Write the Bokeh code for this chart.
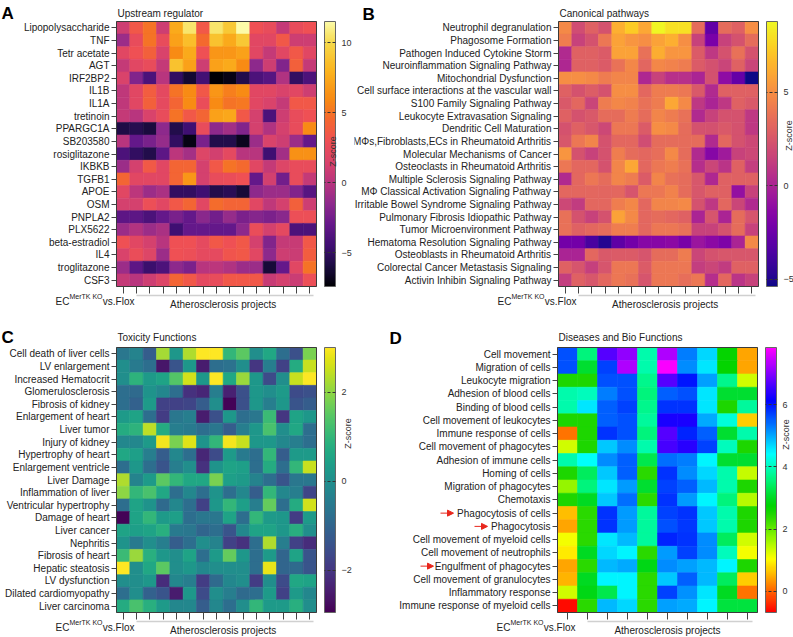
import colorsys
import math
from bokeh.plotting import figure
from bokeh.models import (ColumnDataSource, LinearColorMapper, ColorBar, FixedTicker,
                          LinearAxis, Label, Range1d, Arrow, NormalHead)
from bokeh.layouts import column, row
from bokeh.palettes import Plasma256, Viridis256
from bokeh.embed import file_html
from bokeh.resources import INLINE

FONT = "Liberation Sans"

# ---------------- data ----------------
a_rows = ["Lipopolysaccharide", "TNF", "Tetr acetate", "AGT", "IRF2BP2", "IL1B", "IL1A",
          "tretinoin", "PPARGC1A", "SB203580", "rosiglitazone", "IKBKB", "TGFB1", "APOE",
          "OSM", "PNPLA2", "PLX5622", "beta-estradiol", "IL4", "troglitazone", "CSF3"]
a_values = [
    [1, 3.5, 5, 1, 7.5, 10.5, 3.5, 10.5, 9, 11.5, 3, 2.5, 0.5, 2.5, 3],
    [-1, 2.5, 5, 2.5, 7, 8.5, 4.5, 8.7, 7.5, 9, 2, 2, 3.5, 1, 1],
    [2, 3, 4, 1.5, 6, 7.5, 3, 6.5, 6.5, 7, 2, 0.5, 2, 3.5, 2],
    [0.5, 2, 2.5, 0.5, 8.7, 7, 1, 7, 7.5, 6, -1.5, 1, -2, 4, 0.5],
    [1.5, -2, -4, 0, -5, -6.3, -4.3, -7.4, -7, -5.7, -4, -3.5, -0.3, -5, -4],
    [0.3, 2, 3.8, 2.2, 5, 6, 3.5, 6.5, 5.5, 6, 2, 2, 1.5, 2, 1],
    [0.3, 2, 4, 2.3, 4.3, 6, 2.7, 6, 5, 5.2, 2, 1.5, 0.5, 3.5, 3.5],
    [0.5, 0, 1.5, 2.5, 5, 3.5, 4.3, 7, 7.3, 3.5, 1.3, -4, 1, 2.5, 3],
    [-5.8, -5.5, -6, -1.5, -5.7, -4.5, 2.5, -1.5, -0.8, -2, 1.3, -0.3, 1.3, 2.5, 6],
    [0, -3, -2.3, -1.2, -5, -7, -2.3, -5.7, -5.7, -6.8, -1, 1.5, 1, -1, -3],
    [-4, -5, -5.7, -3.3, 0.2, -0.7, 1.8, 1.2, 2.2, 0, 0, -4.5, -0.8, 6.3, 6.3],
    [-1, 1.3, 3.6, 2, 4.3, 4.3, 1.3, 3.5, 5, 4.5, 2, 0.5, 1.8, 2.5, 2.5],
    [4.3, 2, 2, 2, 4.3, 6.5, 1.3, 2.5, 2.7, 3, -3, 1.2, -2.5, 2.5, 0.5],
    [2, 0.2, -1, -0.5, -5, -5, -4.5, -5.7, -5.4, -6.2, -1.5, -1, -1, -2, -3.5],
    [1.3, 1.3, 2.8, 2, 3.5, 4.3, 2, 4.7, 4.2, 4.2, 2, 0.3, 1.3, 4, 1],
    [-3.3, -3.3, -4, -3, -2.3, -3, -1.7, -2.5, -1.2, -2.2, -1.8, -2.2, -1.7, 2.8, 2.8],
    [-1, -0.2, -1, -0.5, -4.5, -3, -3, -3, -3, -1.5, 2.7, 1.3, 2.2, -4, -4],
    [3, 2, 1.3, 0, 3, 3, 2.3, 3.5, 3, 3.5, 1.3, -2, 0.5, 0.7, 3.5],
    [1.5, 2.7, 1.8, -1, 3, 2.8, 2.3, 2.3, 3.3, 3.5, 2, -1.5, 1, 0.8, 3.8],
    [-1, -3.3, -4.6, -4, -1.5, -2.2, 0, 0.2, -0.3, -1, -1, -6.2, -3, 2, 5],
    [0.5, 0, 1, 1.8, 4.3, 3.5, 2.2, 2.5, 3.5, 3.5, 3.5, 0.7, 1.3, 0.8, 2.8],
]

b_rows = ["Neutrophil degranulation", "Phagosome Formation", "Pathogen Induced Cytokine Storm",
          "Neuroinflammation Signaling Pathway", "Mitochondrial Dysfunction",
          "Cell surface interactions at the vascular wall", "S100 Family Signaling Pathway",
          "Leukocyte Extravasation Signaling", "Dendritic Cell Maturation",
          "M\u03a6s,Fibroblasts,ECs in Rheumatoid Arthritis", "Molecular Mechanisms of Cancer",
          "Osteoclasts in Rheumatoid Arthritis", "Multiple Sclerosis Signaling Pathway",
          "M\u03a6 Classical Activation Signaling Pathway", "Irritable Bowel Syndrome Signaling Pathway",
          "Pulmonary Fibrosis Idiopathic Pathway", "Tumor Microenvironment Pathway",
          "Hematoma Resolution Signaling Pathway", "Osteoblasts in Rheumatoid Arthritis",
          "Colorectal Cancer Metastasis Signaling", "Activin Inhibin Signaling Pathway"]
b_values = [
    [4.8, 2, 3, 2.3, 6.3, 7.3, 6, 8.7, 8, 8, 3.5, -2.8, 3.5, 3, 5],
    [4.3, 1.5, 2.3, 4, 5.8, 5.3, 5, 5.8, 6.3, 5, 1.5, -2, 1.5, 2.3, 3.5],
    [0.3, 3, 3, 2.7, 5.8, 5.8, 3.7, 6.2, 5.3, 5.3, 2.7, 1, 2.3, 3.7, 2.3],
    [0.2, 3, 3, 2.7, 3.8, 4.7, 3.2, 4.7, 4.5, 4.2, 2.7, 2.2, 1.6, 3, 1.6],
    [5, 5, 4.8, 4.2, 4.6, 4.6, 0.2, 1.5, 0.6, 0.6, 0, 2.2, -1.2, -2.7, -5.4],
    [3, 2.3, 2.8, 2.3, 5, 5, 3.3, 4.2, 4.2, 4, 2.6, 0.3, 3, 3, 3],
    [2.6, 3.3, 1.6, 4.2, 4.7, 4.5, 3.7, 4.2, 6, 4.8, 1, 0, 1, 3, 2.6],
    [3, 2.3, 2.6, 3.5, 3.5, 4.2, 3.5, 4.6, 4.2, 3.7, 0.3, 1.5, 2.3, 2.3, 1],
    [2.3, 3, 2.5, 1.8, 4, 4, 2.7, 5, 4.8, 3.5, 2.3, 2.2, 2.6, 2.3, 1],
    [2.5, 4, 4.6, 2.3, 3.3, 3.3, 2, 3.5, 3.5, 3.5, 3.5, 0.3, 3.3, 2.3, 1.8],
    [5.3, 2.3, 1.5, 2.3, 4.3, 3.5, 3.3, 3.6, 4.8, 3.5, 0.3, -1.5, -0.5, 1.5, 1.8],
    [4, 3.3, 3.3, 2.3, 4.6, 6, 3.3, 4, 4.3, 3.7, 0.5, 1.7, 0.8, 3, 1.3],
    [0.3, 3.3, 4, 3.5, 4.6, 4.2, 2.7, 4.6, 3.7, 3.5, 2.5, 0.2, 3, 3, 3],
    [3.3, 3.3, 3.3, 3.2, 3.3, 2.4, 4, 4, 4.5, 3.5, 2.5, 3, 3, -1, 1.5],
    [1.8, 1.2, 3.3, 3.3, 4.3, 4.7, 3.3, 4.6, 4.6, 4.8, 2.3, 1, 3.3, 1.7, 0.3],
    [3.7, 2.3, 1.5, 2.3, 5.8, 4.8, 3.3, 3.5, 3.3, 3, 0, 2.4, 0, 3.5, 2.4],
    [3.7, 3, 3.3, 3.5, 4.3, 4.3, 3.3, 4, 4, 3.7, 1.5, 1.5, 2.3, 3.5, 1.5],
    [-2.2, -2.2, -3.7, -4.8, -3, -2.2, -1.5, -1.5, -1.3, -2, -0.7, -1.3, -1.8, 0, 4.8],
    [0, 0, 3.3, 2.6, 2.7, 2.7, 2.4, 3.5, 3.5, 4.2, 1.7, 2.3, 2.5, 2.5, 2.5],
    [3, 2.4, 1.4, 2.4, 4, 4, 2.7, 4, 4, 4, 1.3, 1.7, 1.2, 3, 3],
    [1.3, 3, 2.5, 3.3, 4, 3.7, 2.4, 4, 4, 3.6, 4, 0.5, 3.3, 0.8, 1.5],
]

c_rows = ["Cell death of liver cells", "LV enlargement", "Increased Hematocrit",
          "Glomerulosclerosis", "Fibrosis of kidney", "Enlargement of heart", "Liver tumor",
          "Injury of kidney", "Hypertrophy of heart", "Enlargement ventricle", "Liver Damage",
          "Inflammation of liver", "Ventricular hypertrophy", "Damage of heart", "Liver cancer",
          "Nephritis", "Fibrosis of heart", "Hepatic steatosis", "LV dysfunction",
          "Dilated cardiomyopathy", "Liver carcinoma"]
c_values = [
    [-0.6, -0.3, -1.2, 2.2, 0.2, 2.3, 3, 3, 1, 1.5, 0, 0.6, -0.8, -1.5, 1.8],
    [0, -0.5, -0.8, -2.6, -1.4, 0.2, -2.5, -0.8, -0.7, 0, -2, -0.4, -1.8, 0.7, 2.5],
    [0, 0.9, 0.3, 0.5, 1.4, 2.6, 0.2, 3, 0.6, 2.1, 0.2, -1.6, 0, 2.5, 3],
    [-0.8, -0.9, 0.1, -0.2, -0.8, -2.1, -2.3, -0.4, -2.4, -1.5, 0.2, 0, 0.3, -1.6, -1.5],
    [-0.8, -1.1, 0.3, -1.8, -1.8, -1.7, -1.2, 0, -2.9, -1.5, 0.2, -0.4, 0.2, -1.4, -1.2],
    [0.3, 0.5, -0.8, -1.9, -0.6, -0.4, -2.5, -1.5, 0.2, -0.8, -0.6, 1.1, -2, 0.5, 0.2],
    [0.7, 0.9, 2.4, 0.7, -0.4, -0.5, -0.8, -0.6, -1.2, -0.4, 0.2, 1.3, 0, 0.6, -0.8],
    [-0.2, -0.2, 0.3, 2.9, 1.8, 2.7, 0.1, 1, 2.9, 2.5, 0.2, 0.2, -0.2, -0.4, -0.8],
    [0.6, 0.4, -0.4, -1.2, -0.2, -0.8, -2.3, -1.6, 0.3, -0.5, -0.8, 1, -1.2, 0.3, 0.3],
    [-0.8, 0.2, -0.8, -1.4, -0.4, 0, -2.1, 0.1, 0.5, 0.4, -0.8, 0.7, -0.8, 1, 2.5],
    [2.3, -0.3, 0.3, 1.5, 1, 0.6, 0.6, 1.8, 0.4, 0.3, -0.3, -0.8, -1.4, -0.6, -0.6],
    [2, 1, 1.3, 0.6, -0.8, -0.2, -0.8, 0.1, -0.8, -0.2, -1.2, 1, -0.2, -0.4, -1.7],
    [-0.8, 0.5, 0.1, -0.9, -0.2, -0.8, -1.8, 0.2, 1, 0.4, -0.4, 1.6, -0.8, 0.7, 2.6],
    [-2.9, 0.5, 1, 0.3, 0.4, -0.8, -0.6, -0.6, 0.5, -0.8, 1, 0.3, 0.2, -1.9, 0.3],
    [0.5, 0.4, 0.5, 0.8, -0.5, -0.6, -1, -0.8, -1.4, -0.2, 0.5, 0.5, 0.2, 0.8, 0],
    [0.1, -0.5, 0, -0.4, -1.2, -0.8, 0, -0.3, -1.8, -2.1, -0.8, 2.3, -0.4, -1.8, -2.2],
    [1.1, 2.1, 0.8, 0.2, 0, 0.5, -0.8, 0.3, 1.6, 0.2, -0.8, 0.3, -1, 0.5, -1.4],
    [3, 0, 0.6, 1.5, 0, 0.2, -0.2, 0, 0, 0, -0.8, 2.8, -1, -0.9, -1.4],
    [0, 0, 0.2, -2.2, -0.2, -0.4, -1.9, -0.9, -0.2, 0, -1.9, 0, -1.6, 0.6, 0.5],
    [-0.8, 0, -1.1, -1.4, -2.5, 0.2, -1.6, 0, -0.4, -0.9, -0.8, 0.3, -1.8, 0.3, -0.2],
    [0.7, 1.3, 0.8, 0.3, -0.2, -0.2, -1.2, -0.2, -0.8, 0, 1, 0.3, 0.3, 0.8, 0],
]

d_rows = ["Cell movement", "Migration of cells", "Leukocyte migration", "Adhesion of blood cells",
          "Binding of blood cells", "Cell movement of leukocytes", "Immune response of cells",
          "Cell movement of phagocytes", "Adhesion of immune cells", "Homing of cells",
          "Migration of phagocytes", "Chemotaxis", "Phagocytosis of cells", "Phagocytosis",
          "Cell movement of myeloid cells", "Cell movement of neutrophils",
          "Engulfment of phagocytes", "Cell movement of granulocytes", "Inflammatory response",
          "Immune response of myeloid cells"]
d_values = [
    [5.6, 3.6, 6.7, 7.1, 3.9, 7.3, 5.3, 4.7, 2.7, 0.45],
    [5.6, 3.1, 5.7, 7.3, 3.9, 7.8, 5.2, 4.6, 2.7, 0.45],
    [2.5, 2.5, 5.6, 5.6, 3.7, 6.7, 6.0, 5.05, 3.7, 1.35],
    [3.9, 4.0, 5.3, 5.6, 3.6, 5.5, 5.6, 4.6, 3.1, 3.1],
    [3.9, 4.6, 5.5, 5.7, 3.7, 5.8, 5.8, 4.6, 2.5, 3.8],
    [2.5, 2.5, 5.5, 5.6, 3.8, 6.3, 6.3, 5.0, 4.2, 0.7],
    [0.1, 2.5, 5.8, 5.6, 3.6, 6.7, 5.9, 5.5, 3.1, 3.9],
    [1.35, 2.5, 4.8, 5.2, 3.9, 6.6, 6.4, 5.7, 4.0, 2.5],
    [3.9, 4.4, 5.2, 5.5, 3.3, 5.4, 5.3, 4.5, 3.1, 3.1],
    [2.5, 3.4, 4.8, 5.5, 2.4, 5.8, 5.2, 4.7, 3.9, 1.4],
    [1.7, 3.6, 4.6, 5.1, 3.1, 5.7, 5.5, 4.9, 3.9, 2.5],
    [2.5, 3.0, 4.8, 5.4, 2.4, 5.8, 5.1, 4.5, 3.6, 1.5],
    [0.6, 2.4, 5.8, 5.1, 3.8, 5.7, 5.8, 4.8, 3.9, 2.5],
    [0.45, 2.4, 5.8, 5.1, 3.8, 5.6, 5.75, 4.8, 3.9, 2.5],
    [1.1, 2.4, 4.6, 4.9, 3.8, 5.9, 5.8, 5.2, 3.4, 1.35],
    [0.9, 3.0, 4.7, 4.5, 2.4, 5.1, 5.7, 5.2, 4.0, 1.1],
    [0.45, 2.4, 4.9, 5.0, 2.9, 5.2, 5.05, 4.9, 4.5, 2.5],
    [0.55, 3.0, 4.5, 4.5, 2.4, 4.8, 5.5, 4.9, 3.4, 0.7],
    [1.35, 2.9, 3.3, 4.5, 2.4, 5.7, 5.15, 4.6, 3.0, 0.1],
    [-0.6, 2.4, 4.9, 4.7, 2.4, 5.05, 5.0, 4.5, 3.2, 3.2],
]
d_arrow_rows = ["Phagocytosis of cells", "Phagocytosis", "Engulfment of phagocytes"]

group_first = "EC"
group_sup = "MerTK KO"
group_tail = "vs.Flox"
group_rest = "Atherosclerosis projects"
cbar_title = "Z-score"

# colour stops of the upstream-regulator scale (value, colour)
a_stops = [(-7.4, "#000004"), (-6.0, "#1b0c41"), (-4.5, "#3f0f72"), (-3.0, "#65188a"),
           (-1.5, "#8e2a8c"), (0.0, "#b8357e"), (1.5, "#d9436b"), (3.0, "#ef5054"),
           (4.5, "#f4682f"), (6.0, "#f88b14"), (8.0, "#fbb41e"), (10.0, "#f6d94a"),
           (11.5, "#fcfba8")]


def stop_palette(stops, n=256):
    lo, hi = stops[0][0], stops[-1][0]
    rgb = [(v, tuple(int(c[k:k + 2], 16) for k in (1, 3, 5))) for v, c in stops]
    pal = []
    for i in range(n):
        v = lo + (hi - lo) * i / (n - 1)
        for (v0, c0), (v1, c1) in zip(rgb[:-1], rgb[1:]):
            if v0 <= v <= v1:
                t = (v - v0) / (v1 - v0)
                pal.append("#%02x%02x%02x" % tuple(round(a + (b - a) * t) for a, b in zip(c0, c1)))
                break
    return pal


def hsv_palette(n=256, hmax=300.0):
    pal = []
    for i in range(n):
        h = i / (n - 1) * hmax
        v = 1.0 - 0.17 * math.exp(-((h - 118.0) / 28.0) ** 2)
        r, g, b = colorsys.hsv_to_rgb(h / 360.0, 1.0, v)
        pal.append("#%02x%02x%02x" % (round(r * 255), round(g * 255), round(b * 255)))
    return pal


def lbl(text, x, y, size="10px", xu="screen", yu="screen", align="left", base="middle",
        color="#222222", bold=False, angle=0.0):
    return Label(x=x, y=y, x_units=xu, y_units=yu, text=text, text_font=FONT,
                 text_font_size=size, text_align=align, text_baseline=base,
                 text_color=color, text_font_style="bold" if bold else "normal",
                 angle=angle)


def panel(rows, values, palette, low, high, ticks, title, letter, geo, letter_pos,
          title_pos, z_pos, arrows=None):
    # geo: figure width/height, global origin, heatmap box (left, top, width, height) in figure px
    w, h, ox, oy, fl, ft, fw, fh = geo
    nr, nc = len(rows), len(values[0])
    pxc, pxr = fw / nc, fh / nr
    xs, ys, vs = [], [], []
    for i, rv in enumerate(values):
        for j, v in enumerate(rv):
            xs.append(j)
            ys.append(i)
            vs.append(v)
    src = ColumnDataSource(dict(x=xs, y=ys, v=vs))
    mapper = LinearColorMapper(palette=palette, low=low, high=high)

    p = figure(width=w, height=h,
               x_range=Range1d(-0.5 - fl / pxc, -0.5 + (w - fl) / pxc),
               y_range=Range1d(nr - 0.5 + (h - ft - fh) / pxr, -0.5 - ft / pxr),
               output_backend="svg", toolbar_location=None, title=None,
               min_border_left=0, min_border_right=0, min_border_top=0, min_border_bottom=0)
    p.grid.visible = False
    p.outline_line_color = None
    p.background_fill_color = "white"
    p.border_fill_color = "white"

    p.rect("x", "y", width=1, height=1, source=src,
           fill_color={"field": "v", "transform": mapper},
           line_color={"field": "v", "transform": mapper}, line_width=0.6)
    # heatmap frame line
    p.rect(x=[(nc - 1) / 2], y=[(nr - 1) / 2], width=nc, height=nr,
           fill_color=None, line_color="#3a3a3a", line_width=1)

    yax = p.yaxis[0]
    yax.fixed_location = -0.5
    yax.ticker = FixedTicker(ticks=list(range(nr)))
    yax.major_label_overrides = {i: r for i, r in enumerate(rows)}
    yax.major_label_text_font = FONT
    yax.major_label_text_font_size = "10px"
    yax.major_label_text_color = "#222222"
    yax.major_label_standoff = 2
    yax.major_tick_out = 5
    yax.major_tick_in = 0
    yax.major_tick_line_color = "#444444"
    yax.minor_tick_line_color = None
    yax.axis_line_color = None

    xax = p.xaxis[0]
    xax.fixed_location = nr - 0.5
    xax.ticker = FixedTicker(ticks=list(range(nc)))
    xax.major_label_text_color = None
    xax.major_tick_out = 7
    xax.major_tick_in = 0
    xax.major_tick_line_color = "#444444"
    xax.minor_tick_line_color = None
    xax.axis_line_color = None

    ax2 = LinearAxis(ticker=FixedTicker(ticks=[]), bounds=(1, nc - 1 + 0.25),
                     fixed_location=nr - 0.5 + 8.5 / pxr,
                     axis_line_color="#d0d0d0", axis_line_width=1.5,
                     major_tick_line_color=None, minor_tick_line_color=None,
                     major_label_text_color=None)
    p.add_layout(ax2, "below")

    def sx(gx):
        return gx - ox

    def sy(gy):
        return (oy + h) - gy

    cb = ColorBar(color_mapper=mapper, ticker=FixedTicker(ticks=ticks), width=11, height=fh,
                  location=(fl + fw + 8, h - ft - fh), padding=0, margin=0,
                  label_standoff=6, major_label_text_font=FONT,
                  major_label_text_font_size="9px", major_label_text_color="#333333",
                  major_tick_in=11, major_tick_out=0, major_tick_line_color="#333333",
                  major_tick_line_dash="3 2", minor_tick_line_color=None,
                  bar_line_color="#666666", border_line_color=None,
                  background_fill_color=None)
    p.add_layout(cb)

    # title and panel letter
    p.add_layout(lbl(title, fl + 1, sy(title_pos), size="10px"))
    p.add_layout(lbl(letter, sx(letter_pos[0]), sy(letter_pos[1]), size="17px",
                     base="top", bold=True, color="black"))

    # group labels below the columns
    base_y = h - ft - fh
    p.add_layout(lbl(group_tail, fl + 18, base_y - 15, align="right"))
    p.add_layout(lbl(group_sup, fl + 18 - 32, base_y - 10, size="7px", align="right"))
    p.add_layout(lbl(group_first, fl + 18 - 32 - 33, base_y - 15, align="right"))
    p.add_layout(lbl(group_rest, nc / 2, base_y - 18, xu="data", align="center"))

    # colour bar title
    p.add_layout(lbl(cbar_title, sx(z_pos[0]), sy(z_pos[1]), size="9px",
                     align="center", color="#333333", angle=math.pi / 2))

    if arrows:
        for name, tip in arrows:
            yy = h - ft - (rows.index(name) + 0.5) * pxr
            p.add_layout(Arrow(x_start=sx(tip) - 13, y_start=yy, x_end=sx(tip), y_end=yy,
                               start_units="screen", end_units="screen",
                               line_color="#e8261c", line_width=1,
                               end=NormalHead(size=6, fill_color="#e8261c",
                                              line_color="#e8261c")))
    return p


pA = panel(a_rows, a_values, stop_palette(a_stops), -7.4, 11.5, [-5, 0, 5, 10],
           "Upstream regulator", "A",
           (354, 318, 0, 0, 116, 21, 200, 265), (1, 3), 13, (332, 151))
pB = panel(b_rows, b_values, Plasma256, -5.4, 8.8, [-5, 0, 5], "Canonical pathways", "B",
           (439, 318, 354, 0, 204, 21, 200, 265), (362, 4), 13, (788, 135))
pC = panel(c_rows, c_values, Viridis256, -2.95, 3.0, [-2, 0, 2], "Toxicity Functions", "C",
           (354, 319, 0, 318, 116, 29, 200, 265), (1, 327), 337, (347, 433))
pD = panel(d_rows, d_values, hsv_palette(), -0.68, 7.84, [0, 2, 4, 6],
           "Diseases and Bio Functions", "D",
           (439, 319, 354, 318, 203, 29, 200, 265), (389, 328), 337, (785, 434),
           arrows=list(zip(d_arrow_rows, [453, 487, 433])))

layout = column(row(pA, pB), row(pC, pD))
open("out.html", "w").write(file_html(layout, INLINE))
